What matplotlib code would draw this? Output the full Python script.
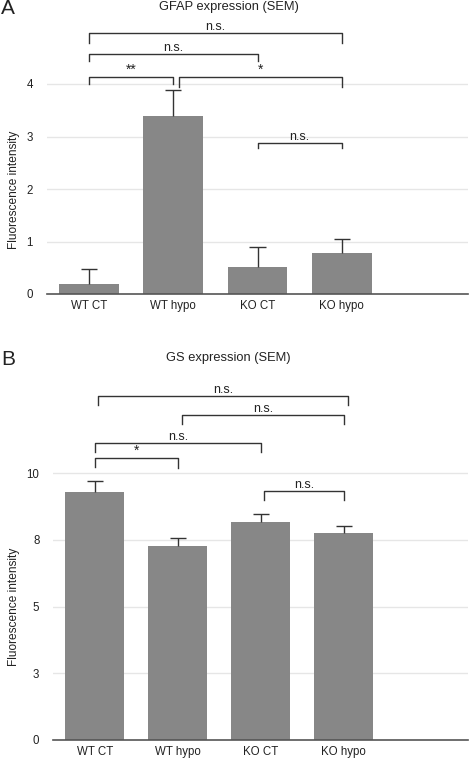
import matplotlib
matplotlib.use("Agg")
import matplotlib.pyplot as plt

plt.rcParams['font.family'] = ['Liberation Sans', 'DejaVu Sans']

categories = ["WT CT", "WT hypo", "KO CT", "KO hypo"]

# Panel A: GFAP
gfap_values = [0.19, 3.39, 0.52, 0.79]
gfap_sem = [0.29, 0.49, 0.38, 0.25]
gfap_ticks = [0, 1, 2, 3, 4]
gfap_ticklabels = ["0", "1", "2", "3", "4"]
# (i, j, top, left leg bottom, right leg bottom, label)
gfap_brackets = [
    (0, 1, 4.14, 4.00, 4.00, "**"),
    (1.07, 3, 4.14, 3.95, 3.95, "*"),
    (0, 2, 4.58, 4.43, 4.43, "n.s."),
    (0, 3, 4.97, 4.79, 4.79, "n.s."),
    (2, 3, 2.88, 2.78, 2.78, "n.s."),
]

# Panel B: GS
gs_values = [9.29, 7.27, 8.17, 7.78]
gs_sem = [0.42, 0.32, 0.32, 0.26]
gs_ticks = [0, 2.5, 5, 7.5, 10]
gs_ticklabels = ["0", "3", "5", "8", "10"]
gs_brackets = [
    (0, 1, 10.59, 10.25, 10.21, "*"),
    (0, 2, 11.12, 10.81, 10.81, "n.s."),
    (1.05, 3, 12.17, 11.84, 11.84, "n.s."),
    (0.04, 3.05, 12.91, 12.56, 12.56, "n.s."),
    (2.04, 3, 9.35, 9.0, 9.0, "n.s."),
]

W, H = 472, 759
fig = plt.figure(figsize=(W / 100, H / 100), dpi=100)

bar_color = "#878787"
line_color = "#333333"
grid_color = "#e6e6e6"


def panel(ax, values, sem, ticks, ticklabels, brackets, ylim_top, label_x):
    x = list(range(len(categories)))
    ax.bar(x, values, width=0.71, color=bar_color, zorder=2)
    tops = [v + s for v, s in zip(values, sem)]
    ax.vlines(x, values, tops, color=line_color, lw=1.0, zorder=3)
    ax.hlines(tops, [xi - 0.095 for xi in x], [xi + 0.095 for xi in x],
              color=line_color, lw=1.0, zorder=3)
    ax.set_xlim(-0.5, 4.5)
    ax.set_ylim(0, ylim_top)
    ax.set_yticks(ticks)
    ax.set_yticklabels(ticklabels)
    ax.set_xticks(x)
    ax.set_xticklabels(categories)
    ax.tick_params(axis="both", length=0, labelsize=8.3, colors="#222222")
    ax.tick_params(axis="y", pad=10)
    ax.tick_params(axis="x", pad=4)
    for t in ticks[1:]:
        ax.axhline(t, color=grid_color, lw=1.0, zorder=0)
    for s in ["top", "right", "left"]:
        ax.spines[s].set_visible(False)
    ax.spines["bottom"].set_color("#555555")
    ax.spines["bottom"].set_linewidth(1.2)
    ax.set_ylabel("Fluorescence intensity", fontsize=8.6, color="#222222")
    ax.yaxis.set_label_coords(label_x, 0.5)
    for (i, j, top, lb, rb, lab) in brackets:
        ax.plot([i, i, j, j], [lb, top, top, rb], color=line_color, lw=1.0,
                clip_on=False, zorder=4)
        ax.text((i + j) / 2, top, lab, ha="center", va="bottom",
                fontsize=9 if lab == "n.s." else 10, color="#222222")


# Panel A axes: x 46.7..468.3 px, baseline at 294 px, top at 0 px
axA = fig.add_axes([46.7 / W, 1 - 294 / H, (468.3 - 46.7) / W, 294 / H])
panel(axA, gfap_values, gfap_sem, gfap_ticks, gfap_ticklabels, gfap_brackets,
      294 / 52.5, (20 - 46.7) / 421.6)
axA.yaxis.label.set_y((294 - 190) / 294)

# Panel B axes: x 53.3..468.3 px, baseline at 740 px, top at 380 px
axB = fig.add_axes([53.3 / W, 1 - 740 / H, (468.3 - 53.3) / W, 360 / H])
panel(axB, gs_values, gs_sem, gs_ticks, gs_ticklabels, gs_brackets,
      360 / 26.67, (20 - 53.3) / 415)
axB.yaxis.label.set_y((740 - 607) / 360)

fig.text(228.7 / W, 1 - 7 / H, "GFAP expression (SEM)", ha="center", va="center",
         fontsize=9.3, color="#222222")
fig.text(228.7 / W, 1 - 358 / H, "GS expression (SEM)", ha="center", va="center",
         fontsize=9.3, color="#222222")
fig.text(1 / W, 1 - 8 / H, "A", ha="left", va="center", fontsize=15, color="#222222")
fig.text(1 / W, 1 - 360 / H, "B", ha="left", va="center", fontsize=15, color="#222222")

fig.savefig("out.png", dpi=100)
